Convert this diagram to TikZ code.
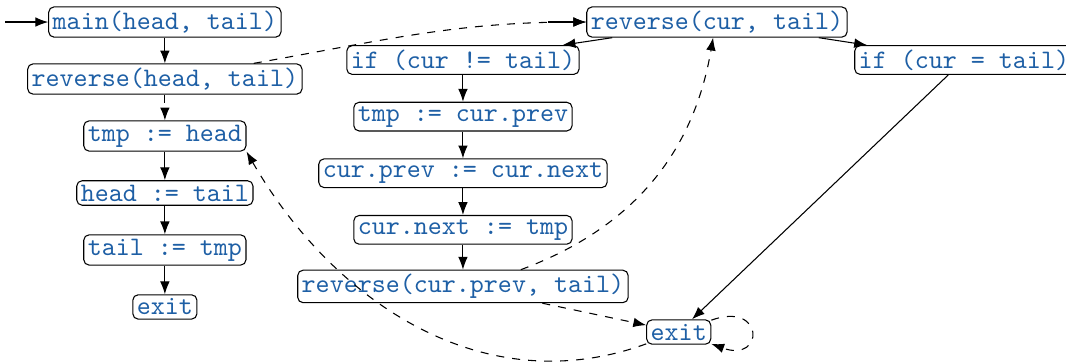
\documentclass[tikz,border=0pt]{standalone}
\usepackage{tikz}
\usetikzlibrary{positioning, arrows.meta}
\definecolor{codeblue}{RGB}{30,95,165}

\begin{document}
\begin{tikzpicture}[
            node distance=0.75cm,
            on grid,
            stmt/.style={rectangle, draw, rounded corners=2pt, inner sep=1.5pt, text=codeblue, font=\ttfamily},
            arrow/.style={-Latex},
            call/.style={-Latex, dashed}
        ]
        \useasboundingbox (0,0) rectangle (14.03,-4.764);

        % Define the caller statements
        \node[stmt] (main) at (2.17,-0.29) {main(head, tail)};
        \node[stmt, below=of main] (revHead) {reverse(head, tail)};
        \node[stmt, below=of revHead] (tmpHead) {tmp := head};
        \node[stmt, below=of tmpHead] (headTail) {head := tail};
        \node[stmt, below=of headTail] (tailTmp) {tail := tmp};
        \node[stmt, below=of tailTmp] (exitMain) {exit};
        \coordinate[left=0.566cm of main.west] (startMain);

        % Define the callee statements
        \node[stmt] (revCur) at (9.436,-0.29) {reverse(cur, tail)};
        \node[stmt, below left=0.5cm and 3.343cm of revCur] (ifNe) {if (cur != tail)};
        \node[stmt, below right=0.5cm and 3.25cm of revCur] (ifEq) {if (cur = tail)};
        \node[stmt, below=0.745cm of ifNe] (tmpPrev) {tmp := cur.prev};
        \node[stmt, below=0.745cm of tmpPrev] (prevNext) {cur.prev := cur.next};
        \node[stmt, below=0.745cm of prevNext] (nextTmp) {cur.next := tmp};
        \node[stmt, below=0.745cm of nextTmp] (revPrev) {reverse(cur.prev, tail)};
        \node[stmt, below right=0.6cm and 2.84cm of revPrev] (exitCur) {exit};
        \coordinate[left=0.5cm of revCur.west] (startCur);

        % Draw the control flow
        \draw[arrow] (startMain) -- (main);
        \draw[arrow] (main) -- (revHead);
        \draw[arrow] (tmpHead) -- (headTail);
        \draw[arrow] (headTail) -- (tailTmp);
        \draw[arrow] (tailTmp) -- (exitMain);
        \draw[arrow] (startCur) -- (revCur);
        \draw[arrow] (revCur) -- (ifNe);
        \draw[arrow] (revCur) -- (ifEq);
        \draw[arrow] (ifNe) -- (tmpPrev);
        \draw[arrow] (tmpPrev) -- (prevNext);
        \draw[arrow] (prevNext) -- (nextTmp);
        \draw[arrow] (nextTmp) -- (revPrev);
        \draw[arrow] (ifEq) -- (exitCur);

        % Draw the call and return edges
        \draw[call] (revHead) -- (tmpHead);
        \draw[call] (revHead) to[out=10, in=180] (revCur.west);
        \draw[call] (revPrev) to[bend right=30] (revCur);
        \draw[call] (revPrev) -- (exitCur);
        \draw[call] (exitCur) to[out=20, in=-20, looseness=1, min distance=7.5mm] (exitCur);
        \draw[call] (exitCur) to[out=200, in=-60] (tmpHead.south east);
    \end{tikzpicture}
\end{document}
